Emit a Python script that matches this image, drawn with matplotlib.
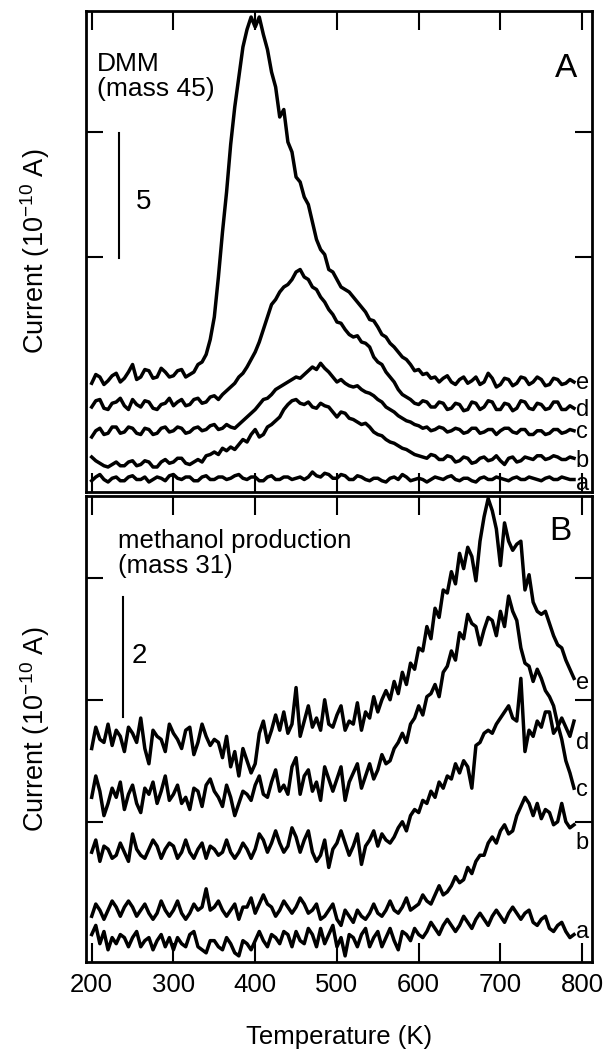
import matplotlib.pyplot as plt
import numpy as np

plt.rcParams['font.family'] = ['Liberation Sans', 'DejaVu Sans']
plt.rcParams['mathtext.fontset'] = 'custom'
plt.rcParams['mathtext.rm'] = 'Liberation Sans'
plt.rcParams['mathtext.it'] = 'Liberation Sans:italic'

temps = np.arange(200, 795, 5)   # K

# Panel A : DMM (mass 45), traces offset, units of 1e-10 A
dmm_e = [4.35, 4.7, 4.6, 4.3, 4.45, 4.65, 4.75, 4.4, 4.55, 4.8,
         5.1, 4.5, 4.6, 4.9, 4.85, 4.55, 4.6, 4.95, 4.8, 4.6,
         4.65, 4.85, 4.9, 4.6, 4.7, 4.8, 5.1, 5.2, 5.5, 6.1,
         7.0, 8.6, 10.4, 12.0, 13.9, 15.4, 16.6, 17.8, 18.5, 19.0,
         18.6, 19.0, 18.3, 17.7, 16.8, 16.2, 15.0, 15.3, 14.0, 13.6,
         12.6, 12.4, 11.8, 11.5, 10.8, 10.1, 9.7, 9.5, 8.9, 8.8,
         8.5, 8.2, 8.1, 8.0, 7.8, 7.6, 7.4, 7.2, 6.9, 6.85,
         6.6, 6.3, 6.2, 5.95, 5.8, 5.6, 5.4, 5.3, 5.1, 4.85,
         4.9, 4.7, 4.75, 4.55, 4.6, 4.4, 4.55, 4.65, 4.4, 4.3,
         4.5, 4.6, 4.35, 4.45, 4.6, 4.3, 4.4, 4.75, 4.55, 4.2,
         4.3, 4.55, 4.5, 4.25, 4.35, 4.6, 4.55, 4.3, 4.4, 4.6,
         4.5, 4.25, 4.3, 4.55, 4.5, 4.3, 4.35, 4.5, 4.4]
dmm_d = [3.4, 3.65, 3.7, 3.35, 3.3, 3.55, 3.6, 3.75, 3.45, 3.3,
         3.7, 3.5, 3.4, 3.65, 3.6, 3.35, 3.3, 3.5, 3.55, 3.75,
         3.45, 3.6, 3.7, 3.45, 3.5, 3.7, 3.75, 3.55, 3.6, 3.8,
         3.85, 3.7, 3.9, 4.05, 4.2, 4.35, 4.6, 4.75, 5.0, 5.3,
         5.6, 6.0, 6.5, 7.0, 7.5, 7.7, 8.0, 8.2, 8.3, 8.5,
         8.8, 8.9, 8.6, 8.5, 8.2, 8.1, 7.8, 7.6, 7.3, 7.1,
         6.8, 6.75, 6.5, 6.3, 6.2, 6.25, 6.0, 5.95, 5.8, 5.4,
         5.2, 5.1, 4.8, 4.6, 4.4, 4.1, 3.9, 3.8, 3.7, 3.55,
         3.5, 3.65, 3.6, 3.4, 3.4, 3.6, 3.55, 3.3, 3.35, 3.55,
         3.5, 3.25, 3.3, 3.6, 3.55, 3.3, 3.4, 3.65, 3.6, 3.3,
         3.3, 3.55, 3.5, 3.25, 3.35, 3.65, 3.6, 3.35, 3.3, 3.55,
         3.5, 3.3, 3.35, 3.6, 3.6, 3.3, 3.3, 3.45, 3.35]
dmm_c = [2.2, 2.45, 2.55, 2.3, 2.35, 2.6, 2.6, 2.35, 2.4, 2.6,
         2.55, 2.35, 2.3, 2.55, 2.5, 2.3, 2.35, 2.55, 2.6, 2.4,
         2.45, 2.6, 2.55, 2.35, 2.4, 2.55, 2.6, 2.45, 2.5, 2.65,
         2.7, 2.5, 2.55, 2.7, 2.6, 2.55, 2.7, 2.85, 3.0, 3.15,
         3.3, 3.5, 3.7, 3.75, 3.9, 4.1, 4.2, 4.3, 4.4, 4.5,
         4.6, 4.55, 4.7, 4.85, 5.0, 4.9, 5.15, 4.95, 4.8, 4.6,
         4.4, 4.5, 4.35, 4.25, 4.2, 4.25, 4.1, 4.0, 3.95, 3.85,
         3.7, 3.6, 3.4, 3.3, 3.2, 3.05, 2.95, 2.85, 2.8, 2.7,
         2.65, 2.55, 2.6, 2.45, 2.5, 2.6, 2.55, 2.4, 2.45, 2.55,
         2.5, 2.35, 2.4, 2.55, 2.55, 2.35, 2.4, 2.5, 2.5, 2.3,
         2.45, 2.55, 2.55, 2.4, 2.35, 2.5, 2.5, 2.3, 2.3, 2.45,
         2.45, 2.3, 2.35, 2.5, 2.5, 2.35, 2.4, 2.5, 2.45]
dmm_b = [1.4, 1.25, 1.15, 1.05, 1.0, 1.1, 1.2, 1.05, 1.05, 1.2,
         1.25, 1.05, 1.1, 1.25, 1.2, 1.0, 1.0, 1.2, 1.3, 1.15,
         1.2, 1.35, 1.35, 1.15, 1.1, 1.2, 1.3, 1.2, 1.45, 1.5,
         1.6, 1.5, 1.75, 1.65, 1.8, 1.7, 1.9, 2.1, 2.0, 2.3,
         2.5, 2.2, 2.3, 2.6, 2.7, 2.85, 3.0, 3.3, 3.5, 3.65,
         3.7, 3.55, 3.5, 3.6, 3.4, 3.35, 3.55, 3.45, 3.4, 3.2,
         3.0, 3.2, 3.15, 2.95, 2.9, 2.8, 2.7, 2.75, 2.6, 2.4,
         2.3, 2.25, 2.1, 2.0, 1.95, 1.85, 1.75, 1.7, 1.6, 1.5,
         1.45, 1.4, 1.35, 1.5, 1.45, 1.3, 1.3, 1.45, 1.4, 1.2,
         1.25, 1.4, 1.35, 1.15, 1.2, 1.35, 1.4, 1.25, 1.3, 1.45,
         1.25, 1.1, 1.35, 1.4, 1.2, 1.25, 1.4, 1.35, 1.3, 1.45,
         1.45, 1.3, 1.35, 1.45, 1.4, 1.3, 1.3, 1.4, 1.35]
dmm_a = [0.45, 0.6, 0.7, 0.5, 0.4, 0.55, 0.6, 0.45, 0.45, 0.6,
         0.65, 0.5, 0.5, 0.6, 0.4, 0.5, 0.6, 0.55, 0.45, 0.65,
         0.7, 0.55, 0.5, 0.6, 0.6, 0.45, 0.45, 0.6, 0.65, 0.5,
         0.5, 0.6, 0.6, 0.5, 0.55, 0.65, 0.7, 0.55, 0.5, 0.6,
         0.6, 0.45, 0.45, 0.6, 0.65, 0.5, 0.5, 0.6, 0.6, 0.5,
         0.55, 0.6, 0.5, 0.6, 0.8, 0.65, 0.6, 0.75, 0.7, 0.55,
         0.55, 0.7, 0.65, 0.5, 0.5, 0.65, 0.6, 0.5, 0.45, 0.55,
         0.55, 0.45, 0.4, 0.55, 0.6, 0.5, 0.7, 0.6, 0.45, 0.5,
         0.55, 0.5, 0.4, 0.5, 0.6, 0.55, 0.5, 0.6, 0.65, 0.5,
         0.45, 0.55, 0.55, 0.45, 0.4, 0.55, 0.6, 0.5, 0.5, 0.6,
         0.55, 0.5, 0.45, 0.55, 0.6, 0.5, 0.5, 0.6, 0.55, 0.5,
         0.45, 0.55, 0.6, 0.5, 0.5, 0.6, 0.55, 0.5, 0.5]

# Panel B : methanol production (mass 31), top to bottom at the left edge
meoh_1 = [3.2, 3.55, 3.35, 3.3, 3.6, 3.25, 3.5, 3.4, 3.15, 3.55,
          3.45, 3.3, 3.7, 3.2, 2.95, 3.5, 3.4, 3.35, 3.15, 3.6,
          3.45, 3.35, 3.2, 3.5, 3.55, 3.1, 3.3, 3.6, 3.4, 3.25,
          3.35, 3.3, 3.05, 3.4, 2.9, 3.15, 2.75, 3.2, 3.0, 2.8,
          2.95, 3.45, 3.65, 3.3, 3.5, 3.75, 3.5, 3.8, 3.45, 3.6,
          4.2, 3.4, 3.65, 3.9, 3.55, 3.7, 3.5, 4.0, 3.6, 3.55,
          3.75, 3.9, 3.5, 3.65, 3.6, 3.95, 3.5, 3.8, 3.7, 4.05,
          3.8, 4.0, 4.15, 4.0, 4.3, 4.1, 4.45, 4.25, 4.6, 4.5,
          4.85, 4.8, 5.2, 5.0, 5.5, 5.35, 5.8, 5.75, 6.1, 5.9,
          6.4, 6.15, 6.5, 6.35, 5.95, 6.6, 7.0, 7.3, 7.1, 6.8,
          6.2, 6.9, 6.6, 6.45, 6.55, 6.6, 5.8, 6.05, 5.6, 5.45,
          5.4, 5.45, 5.25, 5.05, 4.9, 4.85, 4.65, 4.5, 4.35]
meoh_2 = [2.4, 2.75, 2.5, 2.1, 2.3, 2.55, 2.4, 2.65, 2.2, 2.45,
          2.6, 2.3, 2.15, 2.55, 2.45, 2.65, 2.3, 2.5, 2.75, 2.35,
          2.45, 2.6, 2.3, 2.4, 2.2, 2.55, 2.5, 2.25, 2.6, 2.7,
          2.5, 2.4, 2.25, 2.6, 2.4, 2.1, 2.3, 2.5, 2.45, 2.35,
          2.6, 2.75, 2.45, 2.4, 2.65, 2.85, 2.5, 2.6, 2.45, 2.9,
          3.05, 2.45, 2.75, 2.85, 2.5, 2.65, 2.35, 2.9, 2.7, 2.5,
          2.7, 2.9, 2.35, 2.65, 2.8, 2.95, 2.55, 2.75, 2.95, 2.7,
          2.85, 3.1, 2.95, 3.0, 3.2, 3.3, 3.45, 3.3, 3.6, 3.7,
          3.9, 3.75, 4.05, 4.1, 4.25, 4.05, 4.45, 4.55, 4.8, 4.65,
          5.1, 5.0, 5.4, 5.25, 5.2, 4.9, 5.15, 5.35, 5.3, 5.05,
          5.45, 5.2, 5.7, 5.45, 5.3, 4.85, 4.6, 4.55, 4.3, 4.5,
          4.35, 4.15, 4.05, 3.9, 3.6, 3.35, 3.0, 2.8, 2.55]
meoh_3 = [1.5, 1.7, 1.35, 1.6, 1.55, 1.4, 1.45, 1.65, 1.5, 1.35,
          1.8, 1.55, 1.45, 1.4, 1.55, 1.7, 1.6, 1.4, 1.55, 1.65,
          1.6, 1.4, 1.5, 1.7, 1.5, 1.4, 1.55, 1.65, 1.4, 1.6,
          1.55, 1.45, 1.5, 1.7, 1.5, 1.4, 1.5, 1.65, 1.55, 1.4,
          1.55, 1.8, 1.7, 1.5, 1.65, 1.85, 1.65, 1.5, 1.6, 1.9,
          1.75, 1.5, 1.7, 1.85, 1.5, 1.35, 1.45, 1.7, 1.25, 1.55,
          1.65, 1.85, 1.65, 1.45, 1.6, 1.8, 1.3, 1.6, 1.7, 1.85,
          1.6, 1.8, 1.7, 1.65, 1.75, 1.9, 2.0, 1.85, 2.1, 2.2,
          2.15, 2.35, 2.3, 2.5, 2.4, 2.65, 2.55, 2.75, 2.7, 2.95,
          2.8, 3.0, 2.9, 2.55, 3.25, 3.3, 3.45, 3.5, 3.45, 3.6,
          3.7, 3.8, 3.9, 3.7, 3.65, 4.35, 3.15, 3.5, 3.4, 3.65,
          3.55, 3.8, 3.8, 3.45, 3.55, 3.7, 3.55, 3.4, 3.65]
meoh_4 = [0.45, 0.65, 0.55, 0.4, 0.55, 0.7, 0.6, 0.45, 0.6, 0.7,
          0.6, 0.45, 0.55, 0.65, 0.5, 0.4, 0.5, 0.7, 0.55, 0.45,
          0.55, 0.7, 0.5, 0.4, 0.5, 0.65, 0.55, 0.6, 0.9, 0.55,
          0.6, 0.7, 0.55, 0.45, 0.55, 0.65, 0.4, 0.6, 0.6, 0.75,
          0.5, 0.65, 0.8, 0.65, 0.6, 0.45, 0.55, 0.7, 0.6, 0.5,
          0.6, 0.75, 0.65, 0.5, 0.55, 0.65, 0.4, 0.45, 0.55, 0.65,
          0.4, 0.3, 0.55, 0.45, 0.35, 0.55, 0.45, 0.4, 0.5, 0.65,
          0.5, 0.45, 0.55, 0.7, 0.55, 0.5, 0.6, 0.75, 0.55, 0.6,
          0.65, 0.8, 0.7, 0.65, 0.8, 0.95, 0.8, 0.85, 0.95, 1.1,
          1.0, 1.05, 1.25, 1.15, 1.35, 1.45, 1.45, 1.65, 1.75, 1.65,
          1.85, 1.95, 1.8, 1.85, 2.1, 2.25, 2.4, 2.3, 2.1, 2.3,
          2.05, 2.2, 2.15, 1.95, 2.0, 2.3, 2.0, 1.9, 1.95]
meoh_5 = [0.15, 0.3, 0.0, 0.2, -0.1, 0.1, 0.0, 0.15, 0.1, -0.05,
          0.1, 0.2, -0.05, 0.05, 0.1, -0.1, 0.05, 0.15, -0.05, 0.1,
          -0.1, 0.1, 0.0, -0.05, 0.15, 0.2, -0.05, -0.1, -0.15, 0.05,
          0.05, -0.05, -0.1, 0.1, 0.0, -0.15, -0.2, 0.05, 0.0, -0.1,
          0.05, 0.2, 0.05, -0.05, 0.15, 0.1, 0.0, 0.2, 0.15, -0.05,
          0.2, 0.05, 0.0, 0.25, 0.15, -0.05, 0.25, 0.0, 0.15, 0.3,
          -0.05, 0.1, -0.2, 0.15, 0.1, -0.05, 0.15, 0.25, -0.05, 0.1,
          0.2, -0.05, 0.1, 0.25, 0.05, -0.1, 0.2, 0.15, 0.05, 0.25,
          0.15, 0.1, 0.2, 0.35, 0.25, 0.15, 0.3, 0.4, 0.3, 0.2,
          0.3, 0.45, 0.35, 0.25, 0.4, 0.5, 0.4, 0.3, 0.45, 0.55,
          0.45, 0.35, 0.5, 0.6, 0.5, 0.4, 0.5, 0.55, 0.35, 0.3,
          0.4, 0.45, 0.25, 0.2, 0.3, 0.35, 0.2, 0.1, 0.15]

trace_labels = ['e', 'd', 'c', 'b', 'a']
dmm_label_y = [4.36, 3.28, 2.4, 1.25, 0.33]
meoh_label_y = [4.27, 3.29, 2.52, 1.65, 0.19]

fig = plt.figure(figsize=(6.05, 10.59), dpi=100)
axA = fig.add_axes([0.1421, 0.5354, 0.8364, 0.4542])
axB = fig.add_axes([0.1421, 0.0916, 0.8364, 0.4400])

for y in [dmm_e, dmm_d, dmm_c, dmm_b, dmm_a]:
    axA.plot(temps, y, 'k-', lw=2.5)
for y in [meoh_1, meoh_2, meoh_3, meoh_4, meoh_5]:
    axB.plot(temps, y, 'k-', lw=2.5)

for lab, y in zip(trace_labels, dmm_label_y):
    axA.text(800, y, lab, fontsize=17, ha='center', va='center')
for lab, y in zip(trace_labels, meoh_label_y):
    axB.text(800, y, lab, fontsize=17, ha='center', va='center')

# scale bars
axA.plot([234, 234], [9.36, 14.36], 'k-', lw=1.5)
axA.text(264, 11.6, '5', fontsize=20, ha='center', va='center')
axB.plot([238, 238], [3.72, 5.69], 'k-', lw=1.5)
axB.text(258, 4.72, '2', fontsize=20, ha='center', va='center')

axA.text(0.022, 0.915, 'DMM\n(mass 45)', transform=axA.transAxes,
         fontsize=19, va='top', ha='left', linespacing=1.05)
axA.text(0.949, 0.88, 'A', transform=axA.transAxes, fontsize=24,
         va='center', ha='center')
axB.text(0.063, 0.93, 'methanol production\n(mass 31)', transform=axB.transAxes,
         fontsize=18.5, va='top', ha='left', linespacing=1.05)
axB.text(0.937, 0.923, 'B', transform=axB.transAxes, fontsize=24,
         va='center', ha='center')

axA.set_ylim(0, 19.24)
axA.set_yticks([9.4, 14.4])
axB.set_ylim(-0.3, 7.34)
axB.set_yticks([2, 4, 6])

for ax in (axA, axB):
    ax.set_xlim(193, 812)
    ax.set_xticks([200, 300, 400, 500, 600, 700, 800])
    ax.tick_params(axis='x', direction='in', length=14, width=1.5,
                   top=True, bottom=True, labelsize=18.5)
    ax.tick_params(axis='y', direction='in', length=12, width=1.5,
                   left=True, right=True, labelleft=False)
    for s in ax.spines.values():
        s.set_linewidth(2)
    ax.set_ylabel('Current (10$^{-10}$ A)', fontsize=19.5)
    ax.yaxis.set_label_coords(-0.068, 0.5)

axA.tick_params(axis='x', labelbottom=False)
axB.tick_params(axis='x', pad=8)
axB.set_xlabel('Temperature (K)', fontsize=18.5, labelpad=20)

fig.savefig('out.png', dpi=100)
